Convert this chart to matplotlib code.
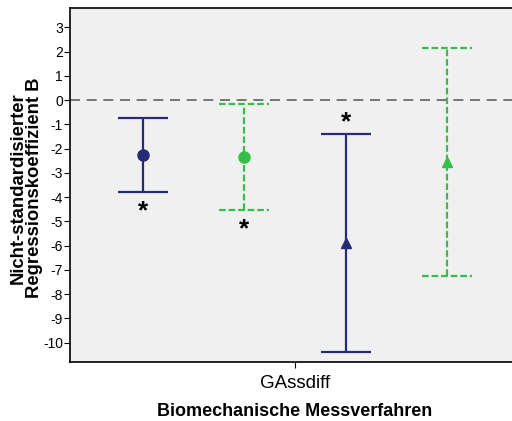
import matplotlib
matplotlib.use("Agg")
import matplotlib.pyplot as plt

plt.rcParams['font.family'] = ['Liberation Sans', 'DejaVu Sans']
plt.rcParams['axes.unicode_minus'] = False

# Koeffizienten mit 95%-KI je Messverfahren (zwei Modelle)
offsets = [-0.675, -0.225, 0.225, 0.675]
means = [-2.26, -2.35, -5.9, -2.55]
lower = [-3.79, -4.53, -10.4, -7.24]
upper = [-0.74, -0.16, -1.40, 2.14]
colors = ['#262b78', '#35bf48', '#262b78', '#35bf48']
markers = ['o', 'o', '^', '^']
styles = ['-', (0, (3, 1.3)), '-', (0, (3, 1.3))]
stars = [('below', 0), ('below', 1), ('above', 2)]

fig = plt.figure(figsize=(5.12, 4.21), dpi=100)
ax = fig.add_axes([70 / 512, 59 / 421, 450 / 512, 354 / 421])
ax.set_facecolor('#f0f0f0')

ax.axhline(0, color='#606060', lw=1.2, ls=(0, (6, 4)), zorder=1)

cap = 0.111
for i in range(4):
    x = offsets[i]
    ax.vlines(x, lower[i], upper[i], color=colors[i], lw=1.6, ls=styles[i], zorder=2)
    ax.hlines([lower[i], upper[i]], x - cap, x + cap, color=colors[i], lw=1.6,
              ls=styles[i], zorder=2)
    ax.plot(x, means[i], marker=markers[i], color=colors[i],
            ms=8 if markers[i] == 'o' else 7, ls='none', zorder=3)

for pos, i in stars:
    if pos == 'below':
        ax.annotate('*', (offsets[i], lower[i]), xytext=(0, -14), textcoords='offset points',
                    ha='center', va='center', fontsize=19, fontweight='bold')
    else:
        ax.annotate('*', (offsets[i], upper[i]), xytext=(0, 8.5), textcoords='offset points',
                    ha='center', va='center', fontsize=19, fontweight='bold')

ax.set_xlim(-1, 1)
ax.set_ylim(-10.8, 3.8)
ax.set_yticks(range(-10, 4))
ax.set_xticks([0])
ax.set_xticklabels(['GAssdiff'], fontsize=13.5)
ax.tick_params(axis='y', labelsize=10, length=4, pad=1)
ax.tick_params(axis='x', length=4, pad=5)

ax.spines['right'].set_visible(False)
for s in ['left', 'top', 'bottom']:
    ax.spines[s].set_linewidth(1.2)

ax.set_xlabel('Biomechanische Messverfahren', fontsize=13, fontweight='bold', labelpad=8)
fig.text(26 / 512, 1 - 188 / 421, 'Nicht-standardisierter\nRegressionskoeffizient B',
         rotation=90, ha='center', va='center', fontsize=13.3, fontweight='bold',
         linespacing=0.95)

fig.savefig('out.png', dpi=100)
